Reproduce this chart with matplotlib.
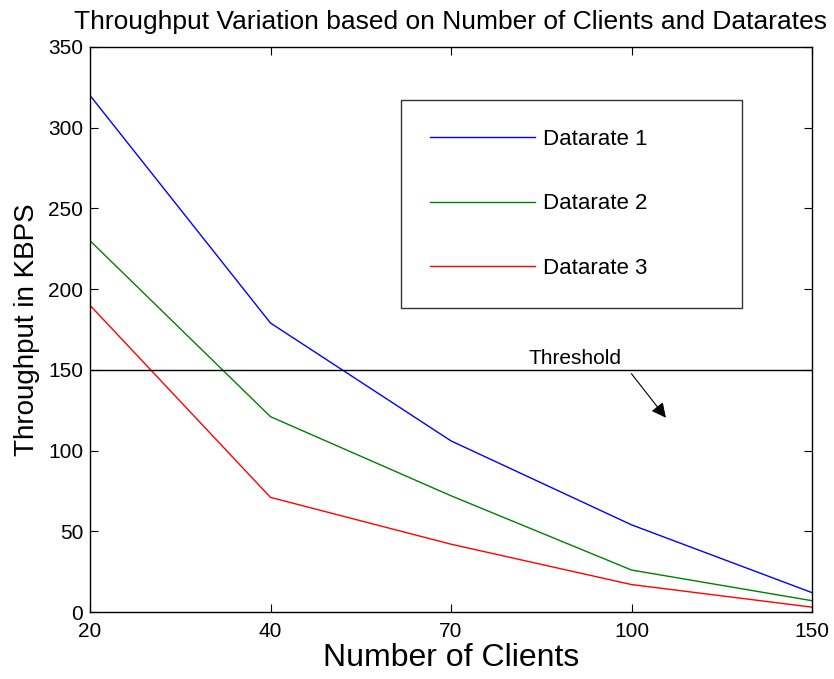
import matplotlib
matplotlib.use('Agg')
from matplotlib import pyplot as plt

plt.rcParams['font.family'] = ['Liberation Sans', 'DejaVu Sans']

# data
clients = ['20', '40', '70', '100', '150']
rate1 = [320, 179, 106, 54, 12]
rate2 = [230, 121, 72, 26, 7]
rate3 = [190, 71, 42, 17, 3]
threshold = 150

x = list(range(len(clients)))

fig = plt.figure(figsize=(8.34, 6.79), dpi=100)
ax = fig.add_axes([90 / 834, 1 - 612 / 679, 722 / 834, 565 / 679])

ax.plot(x, rate1, color='#0000ff', lw=1, label='Datarate 1')
ax.plot(x, rate2, color='#008000', lw=1, label='Datarate 2')
ax.plot(x, rate3, color='#ff0000', lw=1, label='Datarate 3')
ax.axhline(threshold, color='black', lw=1)

ax.text(2.43, 151, 'Threshold', fontsize=15, ha='left', va='bottom')
ax.annotate('', xy=(3.2, 119), xytext=(2.99, 149),
            arrowprops=dict(arrowstyle='-|>', color='black', lw=0.8, mutation_scale=22))

ax.set_xlim(0, 4)
ax.set_ylim(0, 350)
ax.set_xticks(x)
ax.set_xticklabels(clients)
ax.set_yticks(range(0, 351, 50))
ax.tick_params(direction='in', top=True, right=True, labelsize=15, length=6)
ax.tick_params(axis='x', pad=7)
ax.tick_params(axis='y', pad=5)

ax.set_title('Throughput Variation based on Number of Clients and Datarates', fontsize=19, pad=13)
ax.set_xlabel('Number of Clients', fontsize=23, labelpad=2)
ax.set_ylabel('Throughput in KBPS', fontsize=20, labelpad=6)

leg = ax.legend(loc='upper left', bbox_to_anchor=(0.431, 0.538, 0.472, 0.368), mode='expand',
                fontsize=16, frameon=True, fancybox=False, edgecolor='black',
                handlelength=4.7, handletextpad=0.4, labelspacing=1.95,
                borderpad=1.3, borderaxespad=0)
leg.get_frame().set_linewidth(1)

for s in ax.spines.values():
    s.set_linewidth(1)

plt.savefig('out.png', dpi=100)
